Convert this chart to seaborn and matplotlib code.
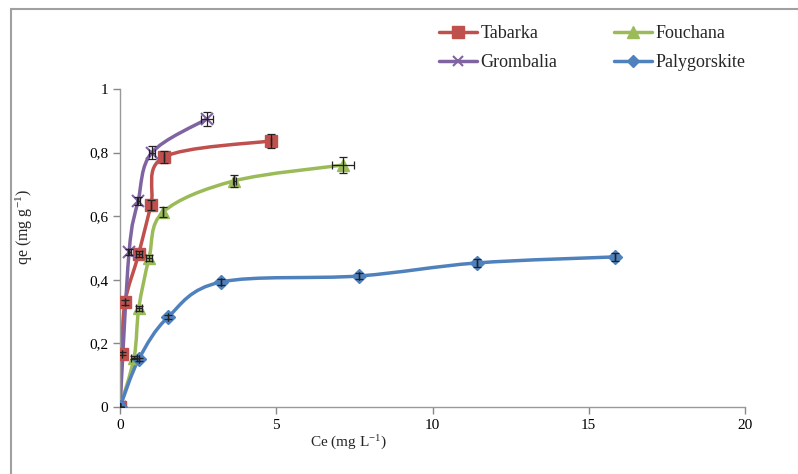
import numpy as np
import pandas as pd
import matplotlib
matplotlib.use('Agg')
import matplotlib.pyplot as plt
import seaborn as sb
from matplotlib.path import Path
from matplotlib.patches import PathPatch, Rectangle
from matplotlib.lines import Line2D

# data
tab_ce = [0, 0.06, 0.16, 0.6, 0.99, 1.41, 4.83]
tab_qe = [0, 0.167, 0.33, 0.482, 0.635, 0.786, 0.837]
tab_yerr = [0, 0.005, 0.008, 0.01, 0.015, 0.02, 0.022]
tab_xerr = [0, 0, 0, 0.1, 0, 0, 0]

fou_ce = [0, 0.45, 0.6, 0.93, 1.38, 3.65, 7.14]
fou_qe = [0, 0.155, 0.31, 0.468, 0.613, 0.711, 0.761]
fou_yerr = [0, 0.005, 0.008, 0.01, 0.015, 0.02, 0.025]
fou_xerr = [0, 0.1, 0.1, 0.1, 0, 0.05, 0.35]

gro_ce = [0, 0.29, 0.58, 1.02, 2.78]
gro_qe = [0, 0.487, 0.648, 0.80, 0.906]
gro_yerr = [0, 0.01, 0.012, 0.02, 0.022]
gro_xerr = [0, 0.05, 0.05, 0.1, 0.2]

pal_ce = [0, 0.6, 1.54, 3.23, 7.65, 11.42, 15.84]
pal_qe = [0, 0.15, 0.283, 0.393, 0.412, 0.453, 0.472]
pal_yerr = [0, 0.005, 0.006, 0.01, 0.01, 0.012, 0.012]
pal_xerr = [0, 0, 0, 0, 0, 0, 0]

series = ['Tabarka', 'Fouchana', 'Grombalia', 'Palygorskite']
colors = ['#C0504D', '#9BBB59', '#8064A2', '#4F81BD']
markers = ['s', '^', 'x', 'D']
msizes = [9, 9, 8, 7]

y_ticks = [0, 0.2, 0.4, 0.6, 0.8, 1.0]
y_tick_labels = ['0', '0,2', '0,4', '0,6', '0,8', '1']
x_ticks = [0, 5, 10, 15, 20]

data = {
    'Tabarka': (tab_ce, tab_qe, tab_xerr, tab_yerr),
    'Fouchana': (fou_ce, fou_qe, fou_xerr, fou_yerr),
    'Grombalia': (gro_ce, gro_qe, gro_xerr, gro_yerr),
    'Palygorskite': (pal_ce, pal_qe, pal_xerr, pal_yerr),
}

sb.set_style('white')
plt.rcParams['font.family'] = ['Liberation Serif', 'DejaVu Serif']
plt.rcParams['mathtext.fontset'] = 'custom'
plt.rcParams['mathtext.rm'] = 'Liberation Serif'
plt.rcParams['mathtext.default'] = 'regular'

fig = plt.figure(figsize=(7.98, 4.74), dpi=100)
ax = fig.add_axes([120/798, 67/474, 625/798, 318/474])
ax.set_xlim(0, 20)
ax.set_ylim(0, 1)

# excel style smoothed line, bezier through the points (in screen-ish units)
sx, sy = 625/20, 318.0
def smooth_path(x, y):
    p = np.column_stack([np.array(x)*sx, np.array(y)*sy])
    n = len(p)
    verts = [p[0]]
    codes = [Path.MOVETO]
    for i in range(n-1):
        p0 = p[i-1] if i > 0 else p[i]
        p3 = p[i+2] if i+2 < n else p[i+1]
        c1 = p[i] + (p[i+1] - p0)/6
        c2 = p[i+1] - (p3 - p[i])/6
        verts += [c1, c2, p[i+1]]
        codes += [Path.CURVE4]*3
    verts = np.array(verts)
    verts[:, 0] /= sx
    verts[:, 1] /= sy
    return Path(verts, codes)

rows = []
for name, col in zip(series, colors):
    ce, qe, xe, ye = data[name]
    ax.add_patch(PathPatch(smooth_path(ce, qe), facecolor='none', edgecolor=col,
                           linewidth=2.5, zorder=2, capstyle='round'))
    for c, q in zip(ce, qe):
        rows.append({'Ce': c, 'qe': q, 'site': name})
df = pd.DataFrame(rows)

for name, col, m, ms in zip(series, colors, markers, msizes):
    sub = df[df.site == name]
    ax.plot(sub.Ce, sub.qe, linestyle='none', marker=m, markersize=ms, color=col,
            markeredgecolor=col, markeredgewidth=1.5 if m == 'x' else 1, zorder=3)

for name in series:
    ce, qe, xe, ye = data[name]
    ax.errorbar(ce, qe, xerr=xe, yerr=ye, fmt='none', ecolor='#222222',
                elinewidth=0.9, capsize=3, capthick=0.9, zorder=4)

ax.set_xticks(x_ticks)
ax.set_yticks(y_ticks)
ax.set_yticklabels(y_tick_labels)
ax.tick_params(axis='both', labelsize=11, colors='#888888', labelcolor='black',
               length=5, width=1, direction='out', left=True, bottom=True)
for s in ['top', 'right']:
    ax.spines[s].set_visible(False)
for s in ['left', 'bottom']:
    ax.spines[s].set_color('#999999')
    ax.spines[s].set_linewidth(1)

ax.set_xlabel('Ce (mg L$^{-1}$)', fontsize=11)
ax.xaxis.set_label_coords(0.366, -0.085)
ax.set_ylabel('qe (mg g$^{-1}$)', fontsize=11.5)
ax.yaxis.set_label_coords(-0.136, 0.565)

# excel fills the legend row by row
order = [0, 2, 1, 3]
handles = [Line2D([], [], color=colors[i], lw=2.5, marker=markers[i], markersize=msizes[i]*0.9,
                  markeredgewidth=1.5 if markers[i] == 'x' else 1) for i in order]
fig.legend(handles, [series[i] for i in order], loc='upper left',
           bbox_to_anchor=(430/798, 1 - 16/474),
           ncol=2, frameon=False, fontsize=13, handlelength=2.1, handletextpad=0.2,
           columnspacing=3.15, labelspacing=0.68, borderpad=0, numpoints=1)

fig.add_artist(Rectangle((11/798, -0.1), 2, 1.1 - 9/474, transform=fig.transFigure,
                         fill=False, edgecolor='#a0a0a0', linewidth=1.5))

fig.savefig('out.png', dpi=100)
